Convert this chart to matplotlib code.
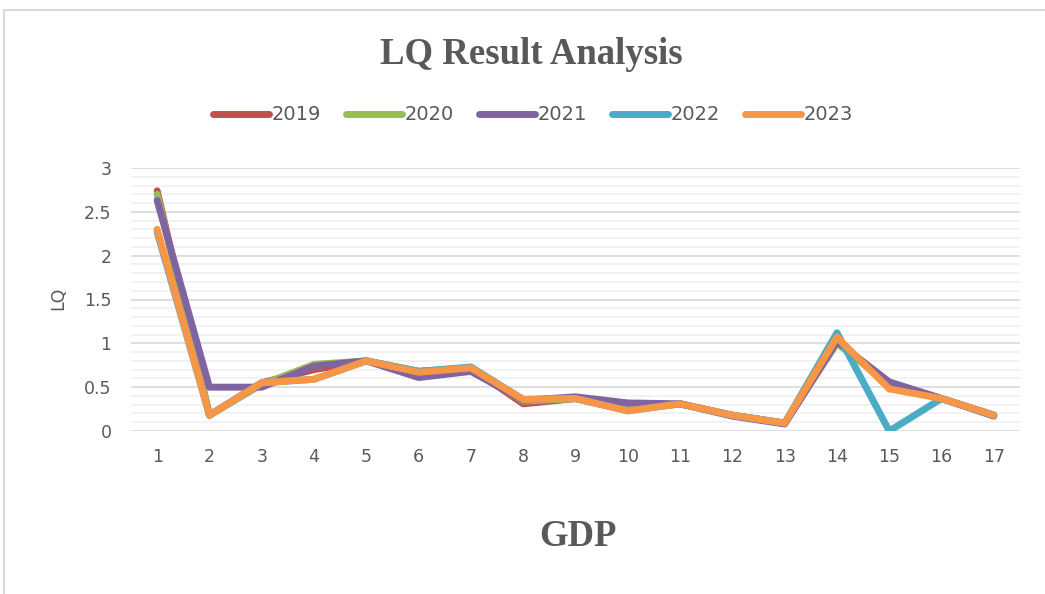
import matplotlib
matplotlib.use("Agg")
import matplotlib.pyplot as plt
from matplotlib.lines import Line2D
import numpy as np

categories = list(range(1, 18))
years = ["2019", "2020", "2021", "2022", "2023"]
v2019 = [2.74, 0.18, 0.55, 0.70, 0.80, 0.68, 0.72, 0.31, 0.37, 0.25, 0.31, 0.18, 0.09, 1.02, 0.55, 0.37, 0.18]
v2020 = [2.70, 0.18, 0.53, 0.76, 0.80, 0.68, 0.72, 0.34, 0.37, 0.24, 0.31, 0.18, 0.09, 1.00, 0.53, 0.37, 0.18]
v2021 = [2.63, 0.50, 0.50, 0.74, 0.80, 0.61, 0.68, 0.35, 0.39, 0.32, 0.31, 0.17, 0.08, 1.02, 0.56, 0.37, 0.17]
v2022 = [2.27, 0.18, 0.55, 0.59, 0.80, 0.68, 0.73, 0.36, 0.37, 0.23, 0.31, 0.18, 0.09, 1.12, 0.00, 0.37, 0.18]
v2023 = [2.30, 0.18, 0.55, 0.59, 0.80, 0.67, 0.72, 0.36, 0.37, 0.23, 0.31, 0.18, 0.09, 1.07, 0.48, 0.37, 0.18]
series = [v2019, v2020, v2021, v2022, v2023]
colors = ["#C0504D", "#9BBB59", "#8064A2", "#4BACC6", "#F79646"]

W, H = 1045, 594
fig = plt.figure(figsize=(W / 100, H / 100), dpi=100)
fig.patch.set_facecolor("white")

# chart border (left and top visible)
fig.add_artist(Line2D([4 / W, 4 / W], [0, 1 - 10 / H], transform=fig.transFigure, color="#D9D9D9", lw=1.5))
fig.add_artist(Line2D([4 / W, 1], [1 - 10 / H, 1 - 10 / H], transform=fig.transFigure, color="#D9D9D9", lw=1.5))

left, right = 131 / W, 1020 / W
bottom, top = 1 - 431 / H, 1 - 168 / H
ax = fig.add_axes([left, bottom, right - left, top - bottom])

x = np.arange(len(categories))
for vals, c, yr in zip(series, colors, years):
    ax.plot(x, vals, color=c, lw=5, solid_capstyle="round", solid_joinstyle="round", label=yr, zorder=3)

ax.set_xlim(-0.5, len(categories) - 0.5)
ax.set_ylim(0, 3)
ax.set_yticks(np.arange(0, 3.01, 0.5))
ax.set_yticklabels(["0", "0.5", "1", "1.5", "2", "2.5", "3"])
ax.set_yticks(np.arange(0, 3.01, 0.1), minor=True)
ax.set_xticks(x)
ax.set_xticklabels([str(c) for c in categories])
ax.grid(True, which="major", axis="y", color="#D9D9D9", lw=1.2, zorder=0)
ax.grid(True, which="minor", axis="y", color="#F0F0F0", lw=1.2, zorder=0)
ax.tick_params(axis="both", which="both", length=0, labelsize=12.5, labelcolor="#595959", pad=14)
ax.tick_params(axis="x", pad=12)
for s in ax.spines.values():
    s.set_visible(False)
ax.set_axisbelow(True)

fig.text(58 / W, 1 - 298 / H, "LQ", rotation=90, ha="center", va="center", fontsize=12.5, color="#595959", family="DejaVu Sans")

fig.text(531 / W, 1 - 54 / H, "LQ Result Analysis", ha="center", va="center", fontsize=26.5, fontweight="bold", color="#595959", family="Liberation Serif")
fig.text(578 / W, 1 - 536 / H, "GDP", ha="center", va="center", fontsize=26.5, fontweight="bold", color="#595959", family="Liberation Serif")

handles = [Line2D([0], [0], color=c, lw=5, solid_capstyle="round") for c in colors]
leg = fig.legend(handles, years, loc="center", bbox_to_anchor=(533 / W, 1 - 115 / H), ncol=5, frameon=False,
                 fontsize=14, handlelength=2.9, handletextpad=0.15, columnspacing=1.25, labelcolor="#595959")

fig.savefig("out.png", dpi=100, facecolor="white")
